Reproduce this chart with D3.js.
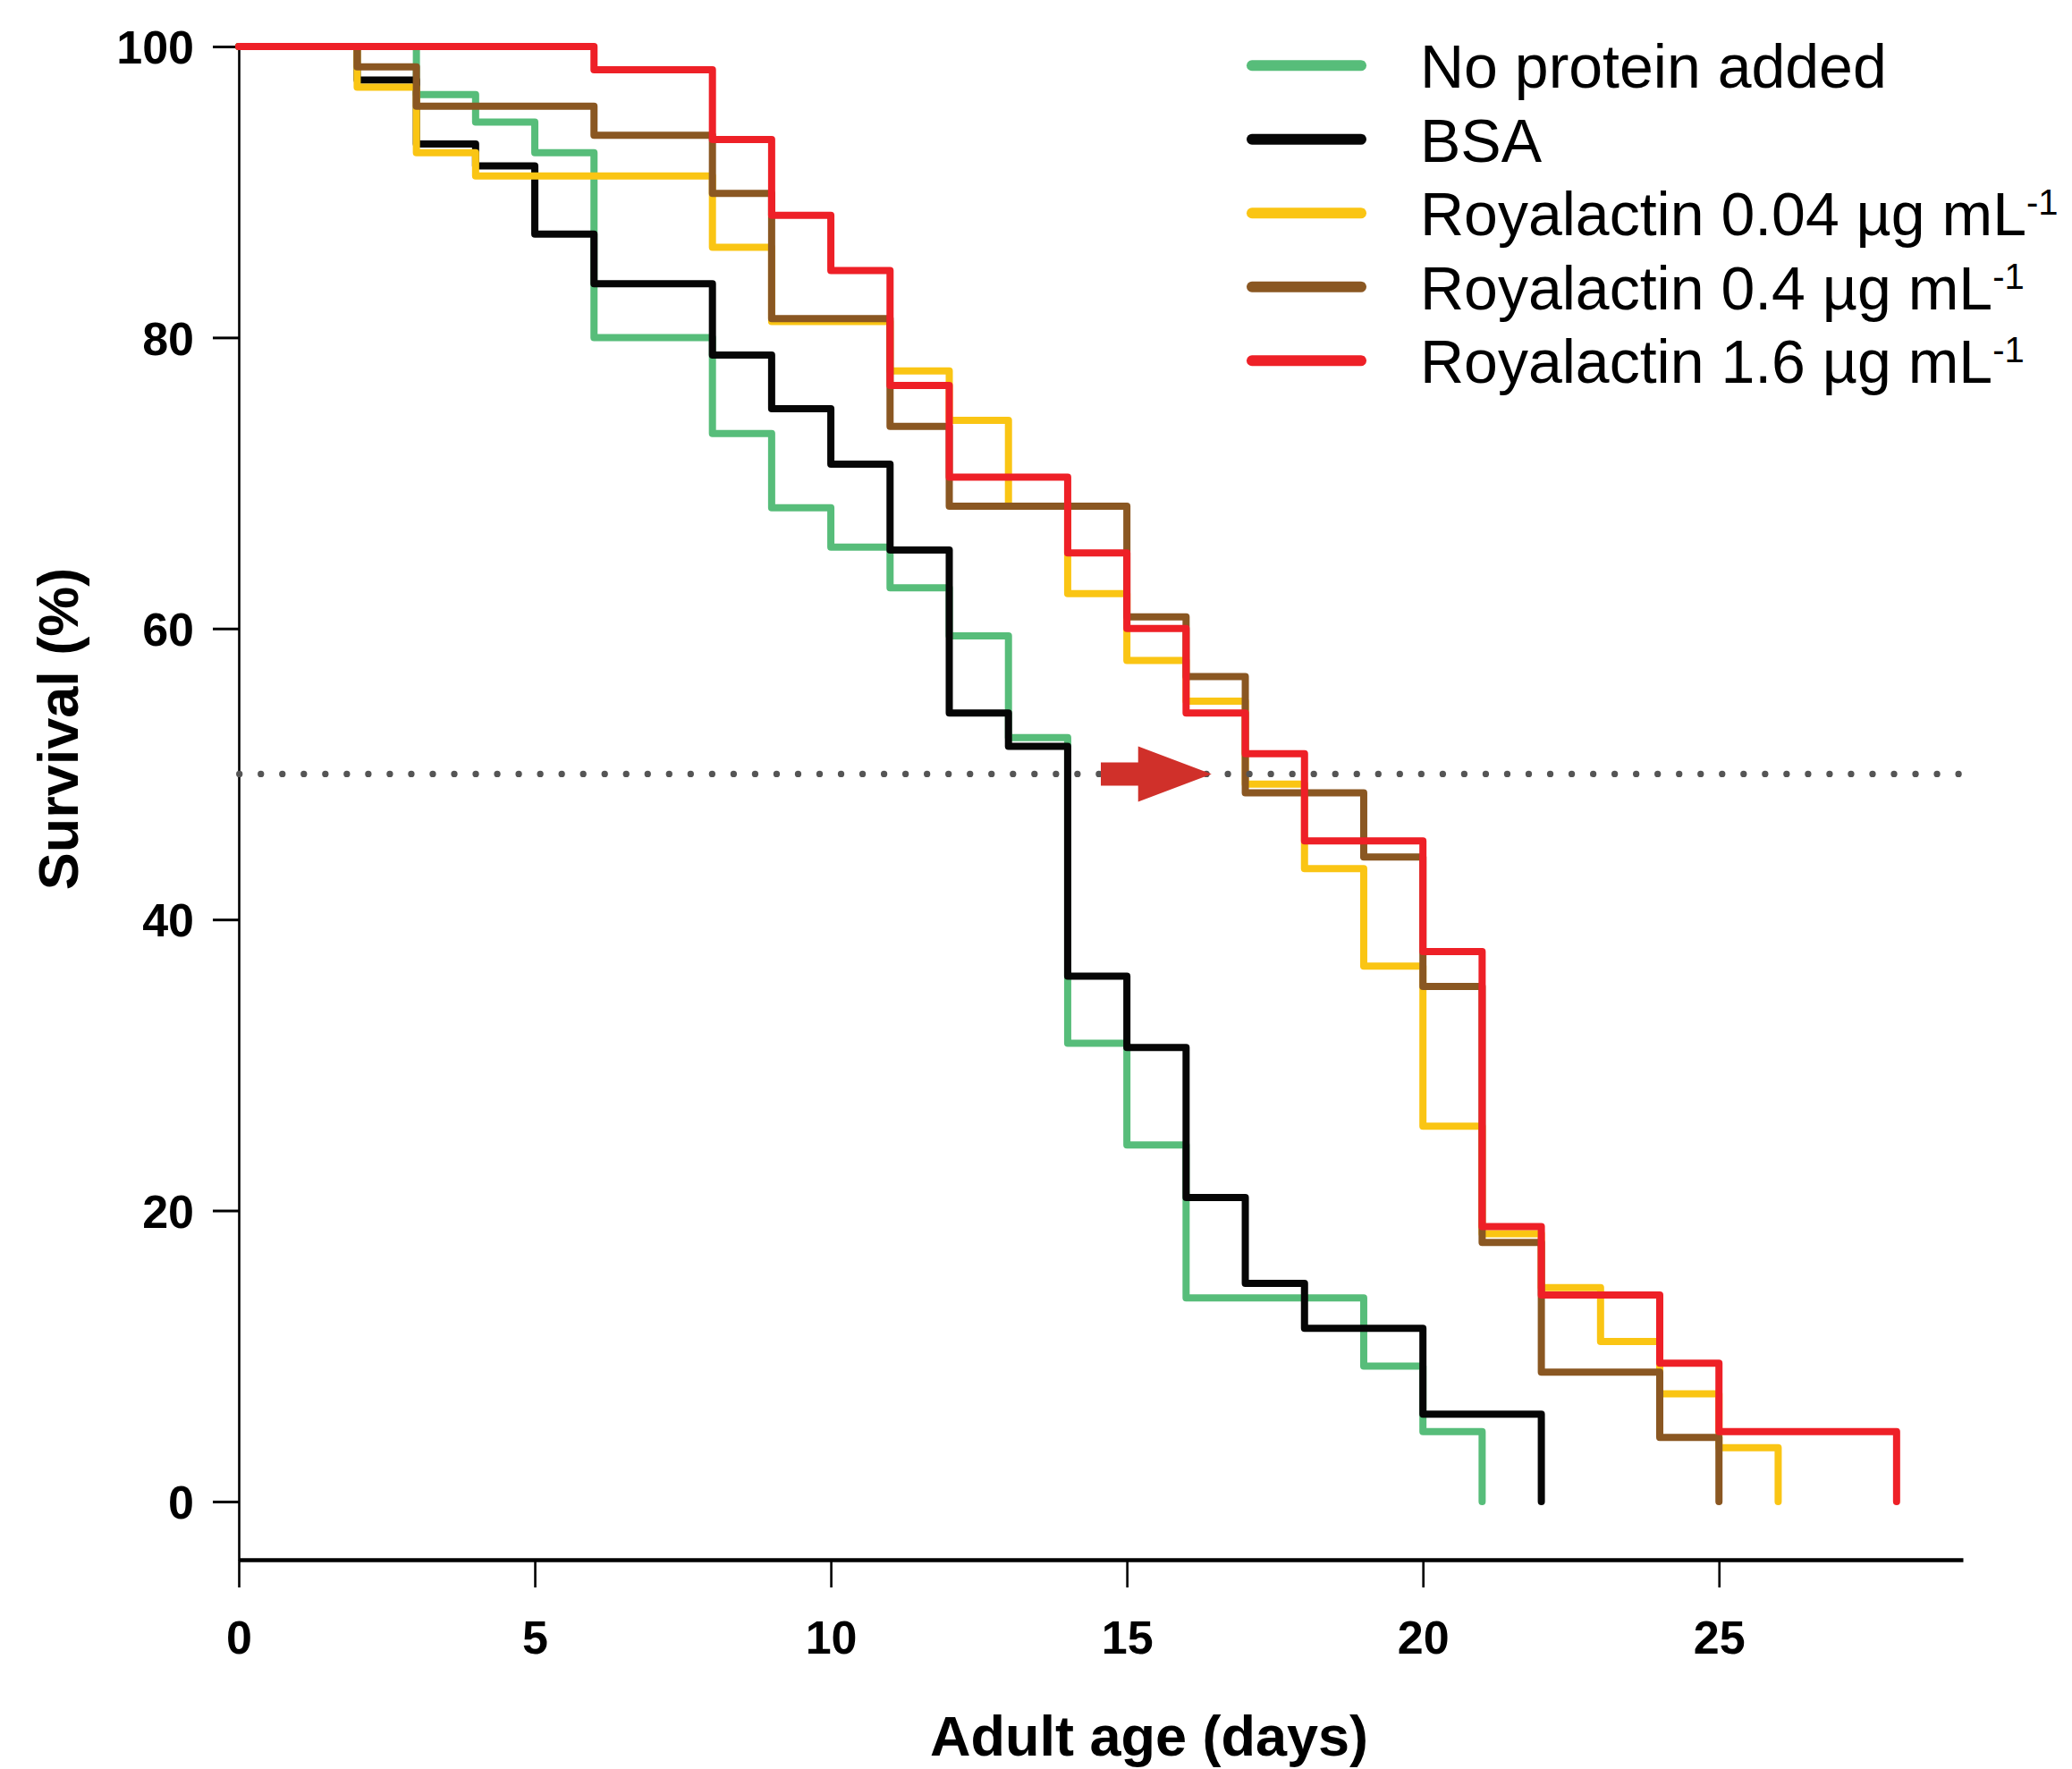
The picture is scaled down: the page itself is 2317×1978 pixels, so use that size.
<!DOCTYPE html>
<html>
<head>
<meta charset="utf-8">
<script src="https://cdn.jsdelivr.net/npm/d3@7"></script>
<style>
    body { margin: 0; background: #fff; }
    text { font-family: "Liberation Sans", Arial, Helvetica, sans-serif; }
</style>
</head>
<body>
<div id="chart"></div>
<script>
// survival curves, day of each step and % alive after it
var noProteinDays = [0, 3, 4, 5, 6, 8, 9, 10, 11, 12, 13, 14, 15, 16, 19, 20, 21];
var noProteinSurv = [100, 96.7, 94.8, 92.7, 80.0, 73.4, 68.3, 65.6, 62.8, 59.5, 52.5, 31.5, 24.5, 14.0, 9.3, 4.8, 0];

var bsaDays = [0, 2, 3, 4, 5, 6, 8, 9, 10, 11, 12, 13, 14, 15, 16, 17, 18, 20, 22];
var bsaSurv = [100, 97.7, 93.3, 91.8, 87.1, 83.7, 78.8, 75.1, 71.3, 65.4, 54.2, 51.9, 36.1, 31.2, 20.9, 15.0, 11.9, 6.0, 0];

var rl004Days = [0, 2, 3, 4, 8, 9, 11, 12, 13, 14, 15, 16, 17, 18, 19, 20, 21, 22, 23, 24, 25, 26];
var rl004Surv = [100, 97.2, 92.7, 91.1, 86.2, 81.1, 77.7, 74.3, 68.4, 62.4, 57.8, 55.0, 49.3, 43.5, 36.8, 25.8, 18.4, 14.7, 11.0, 7.4, 3.7, 0];

var rl04Days = [0, 2, 3, 6, 8, 9, 11, 12, 15, 16, 17, 19, 20, 21, 22, 24, 25];
var rl04Surv = [100, 98.6, 95.9, 93.9, 89.9, 81.3, 73.9, 68.4, 60.8, 56.7, 48.7, 44.3, 35.4, 17.8, 8.9, 4.4, 0];

var rl16Days = [0, 6, 8, 9, 10, 11, 12, 14, 15, 16, 17, 18, 20, 21, 22, 24, 25, 28];
var rl16Surv = [100, 98.4, 93.6, 88.4, 84.6, 76.7, 70.4, 65.2, 60.0, 54.2, 51.4, 45.4, 37.8, 18.9, 14.2, 9.5, 4.8, 0];

var seriesNames = ["No protein added", "BSA", "Royalactin 0.04 µg mL", "Royalactin 0.4 µg mL", "Royalactin 1.6 µg mL"];
var seriesSup = ["", "", "-1", "-1", "-1"];
var seriesColors = ["#57bd7a", "#060606", "#fac514", "#8a5722", "#ee2027"];

var xTicks = [0, 5, 10, 15, 20, 25];
var yTicks = [0, 20, 40, 60, 80, 100];
var medianLine = 50;

function init(){
    var w = 2317;
    var h = 1978;

    // pair days with survival for each series
    var allDays = [noProteinDays, bsaDays, rl004Days, rl04Days, rl16Days];
    var allSurv = [noProteinSurv, bsaSurv, rl004Surv, rl04Surv, rl16Surv];
    var series = allDays.map(function(days, i){
        return days.map(function(d, j){ return [d, allSurv[i][j]]; });
    });

    // R style range: 4% past the data on the far side
    var xScale = d3.scaleLinear()
                    .domain([0, 29.12])
                    .range([267, 2195]);

    var yScale = d3.scaleLinear()
                    .domain([-4, 100])
                    .range([1744, 52]);

    var svg = d3.select('#chart')
                .append('svg')
                .attr('width', w)
                .attr('height', h);

    // y axis
    var yAxis = svg.append('g')
                .attr('transform', 'translate(267,0)')
                .call(d3.axisLeft(yScale)
                    .tickValues(yTicks)
                    .tickSize(29)
                    .tickSizeOuter(0)
                    .tickPadding(21));
    yAxis.select('.domain').attr('stroke', '#000').attr('stroke-width', 2.6);
    yAxis.selectAll('.tick line').attr('stroke', '#000').attr('stroke-width', 3);
    yAxis.selectAll('.tick text')
        .attr('font-size', 52)
        .attr('font-weight', 'bold')
        .attr('fill', '#000')
        .attr('dy', '0.36em');

    // x axis
    var xAxis = svg.append('g')
                .attr('transform', 'translate(0,1744)')
                .call(d3.axisBottom(xScale)
                    .tickValues(xTicks)
                    .tickSize(31)
                    .tickSizeOuter(0));
    xAxis.select('.domain').attr('stroke', '#000').attr('stroke-width', 4.5);
    xAxis.selectAll('.tick line').attr('stroke', '#000').attr('stroke-width', 2.6);
    xAxis.selectAll('.tick text')
        .attr('font-size', 52)
        .attr('font-weight', 'bold')
        .attr('fill', '#000')
        .attr('y', 105)
        .attr('dy', 0);

    // axis titles
    svg.append('text')
        .text('Adult age (days)')
        .attr('x', 1285)
        .attr('y', 1963)
        .attr('text-anchor', 'middle')
        .attr('font-size', 63)
        .attr('font-weight', 'bold');

    svg.append('text')
        .text('Survival (%)')
        .attr('transform', 'translate(87,815) rotate(-90)')
        .attr('text-anchor', 'middle')
        .attr('font-size', 63)
        .attr('font-weight', 'bold');

    // step curves
    var line = d3.line()
                .x(function(d){ return xScale(d[0]); })
                .y(function(d){ return yScale(d[1]); })
                .curve(d3.curveStepAfter);

    svg.selectAll('path.curve')
        .data(series)
        .enter()
        .append('path')
        .attr('class', 'curve')
        .attr('d', line)
        .attr('fill', 'none')
        .attr('stroke', function(d, i){ return seriesColors[i]; })
        .attr('stroke-width', 8)
        .attr('stroke-linejoin', 'round')
        .attr('stroke-linecap', 'round');

    // dotted 50% line, over the curves like in the original
    svg.append('line')
        .attr('x1', xScale(0) + 0.7)
        .attr('x2', xScale(29.12))
        .attr('y1', yScale(medianLine))
        .attr('y2', yScale(medianLine))
        .attr('stroke', '#555')
        .attr('stroke-width', 7.3)
        .attr('stroke-linecap', 'round')
        .attr('stroke-dasharray', '0 24.03');

    // arrow showing the shift of the median
    var ax0 = xScale(14.56), ax1 = xScale(15.19), ax2 = xScale(16.43);
    var ay = yScale(medianLine);
    svg.append('path')
        .attr('d', 'M' + ax0 + ',' + (ay - 13) + 'H' + ax1 + 'V' + (ay - 31) +
                   'L' + ax2 + ',' + ay + 'L' + ax1 + ',' + (ay + 31) +
                   'V' + (ay + 13) + 'H' + ax0 + 'Z')
        .attr('fill', '#d0302a');

    // legend
    var legend = svg.selectAll('g.legend')
                .data(seriesNames)
                .enter()
                .append('g')
                .attr('class', 'legend')
                .attr('transform', function(d, i){
                    return 'translate(0,' + (73.3 + i * 82.5) + ')';
                });

    legend.append('line')
        .attr('x1', 1400)
        .attr('x2', 1522)
        .attr('stroke', function(d, i){ return seriesColors[i]; })
        .attr('stroke-width', 12)
        .attr('stroke-linecap', 'round');

    var label = legend.append('text')
        .attr('x', 1588)
        .attr('y', 25)
        .attr('font-size', 68);
    label.append('tspan').text(function(d){ return d; });
    label.append('tspan')
        .text(function(d, i){ return seriesSup[i]; })
        .attr('font-size', 40)
        .attr('dy', -23);
}

window.onload = init;
</script>
</body>
</html>
